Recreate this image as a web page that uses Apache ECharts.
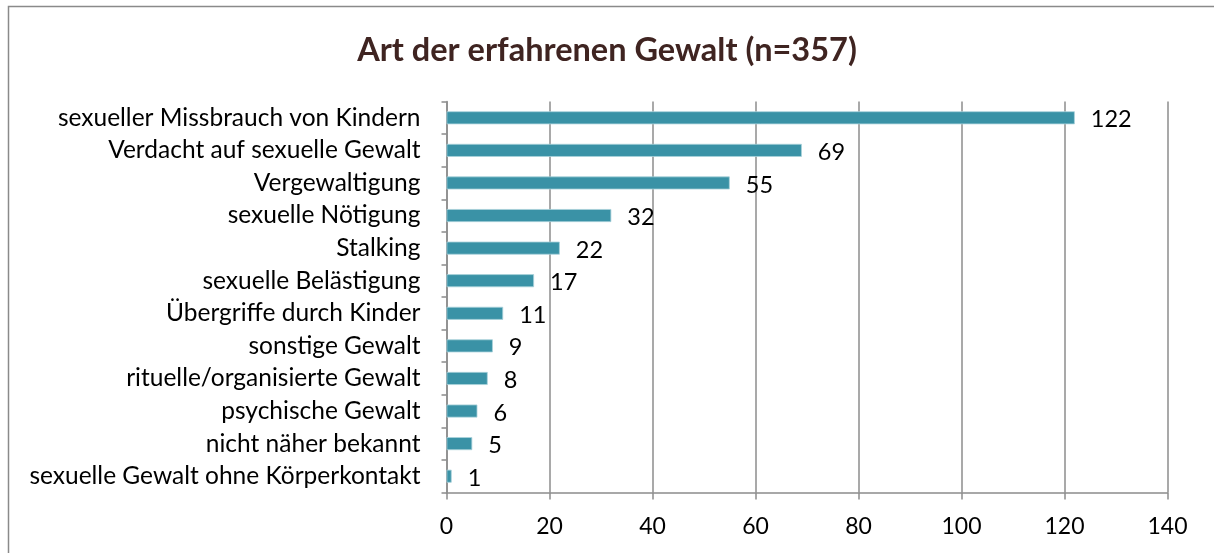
<!DOCTYPE html>
<html><head><meta charset="utf-8">
<script src="https://cdn.jsdelivr.net/npm/echarts@6/dist/echarts.min.js"></script>
<style>html,body{margin:0;padding:0;background:#fff;}#c{width:1214px;height:553px;}</style>
</head><body><div id="c"></div>
<script>
const categories = ["sexueller Missbrauch von Kindern","Verdacht auf sexuelle Gewalt","Vergewaltigung","sexuelle Nötigung","Stalking","sexuelle Belästigung","Übergriffe durch Kinder","sonstige Gewalt","rituelle/organisierte Gewalt","psychische Gewalt","nicht näher bekannt","sexuelle Gewalt ohne Körperkontakt"];
const values = [122,69,55,32,22,17,11,9,8,6,5,1];
const titleText = "Art der erfahrenen Gewalt (n=357)";
const FONT = "Lato";
const chart = echarts.init(document.getElementById('c'));
chart.setOption({
  animation:false,
  backgroundColor:'#fff',
  title:{text:titleText,left:'center',top:29,textStyle:{fontFamily:FONT,fontWeight:'bold',fontSize:32.5,color:'#3f2421'}},
  graphic:[{type:'rect',shape:{x:8.5,y:6.5,width:1300,height:700},style:{fill:'none',stroke:'#8a8a8a',lineWidth:1.5},silent:true}],
  grid:{left:446.5,right:46.5,top:101.5,bottom:60.5,containLabel:false},
  xAxis:{type:'value',min:0,max:140,interval:20,
    axisLine:{show:true,lineStyle:{color:'#8c8c8c',width:1.5}},
    axisTick:{show:true,length:7,lineStyle:{color:'#8c8c8c',width:1.5}},
    splitLine:{show:true,lineStyle:{color:'#8c8c8c',width:1.5}},
    axisLabel:{fontFamily:FONT,fontSize:23,color:'#000',margin:23}},
  yAxis:{type:'category',data:categories,inverse:true,
    axisLine:{show:true,lineStyle:{color:'#8c8c8c',width:1.5}},
    axisTick:{show:true,length:5,alignWithLabel:false,lineStyle:{color:'#8c8c8c',width:1.5}},
    axisLabel:{fontFamily:FONT,fontSize:24.5,color:'#000',margin:26}},
  series:[{type:'bar',data:values,barWidth:13,
    itemStyle:{color:'#3a92a6',borderColor:'#a9d2db',borderWidth:0.8},
    label:{show:true,position:'right',distance:16,offset:[0,2],fontFamily:FONT,fontSize:23.5,color:'#000'}}]
});
</script></body></html>
